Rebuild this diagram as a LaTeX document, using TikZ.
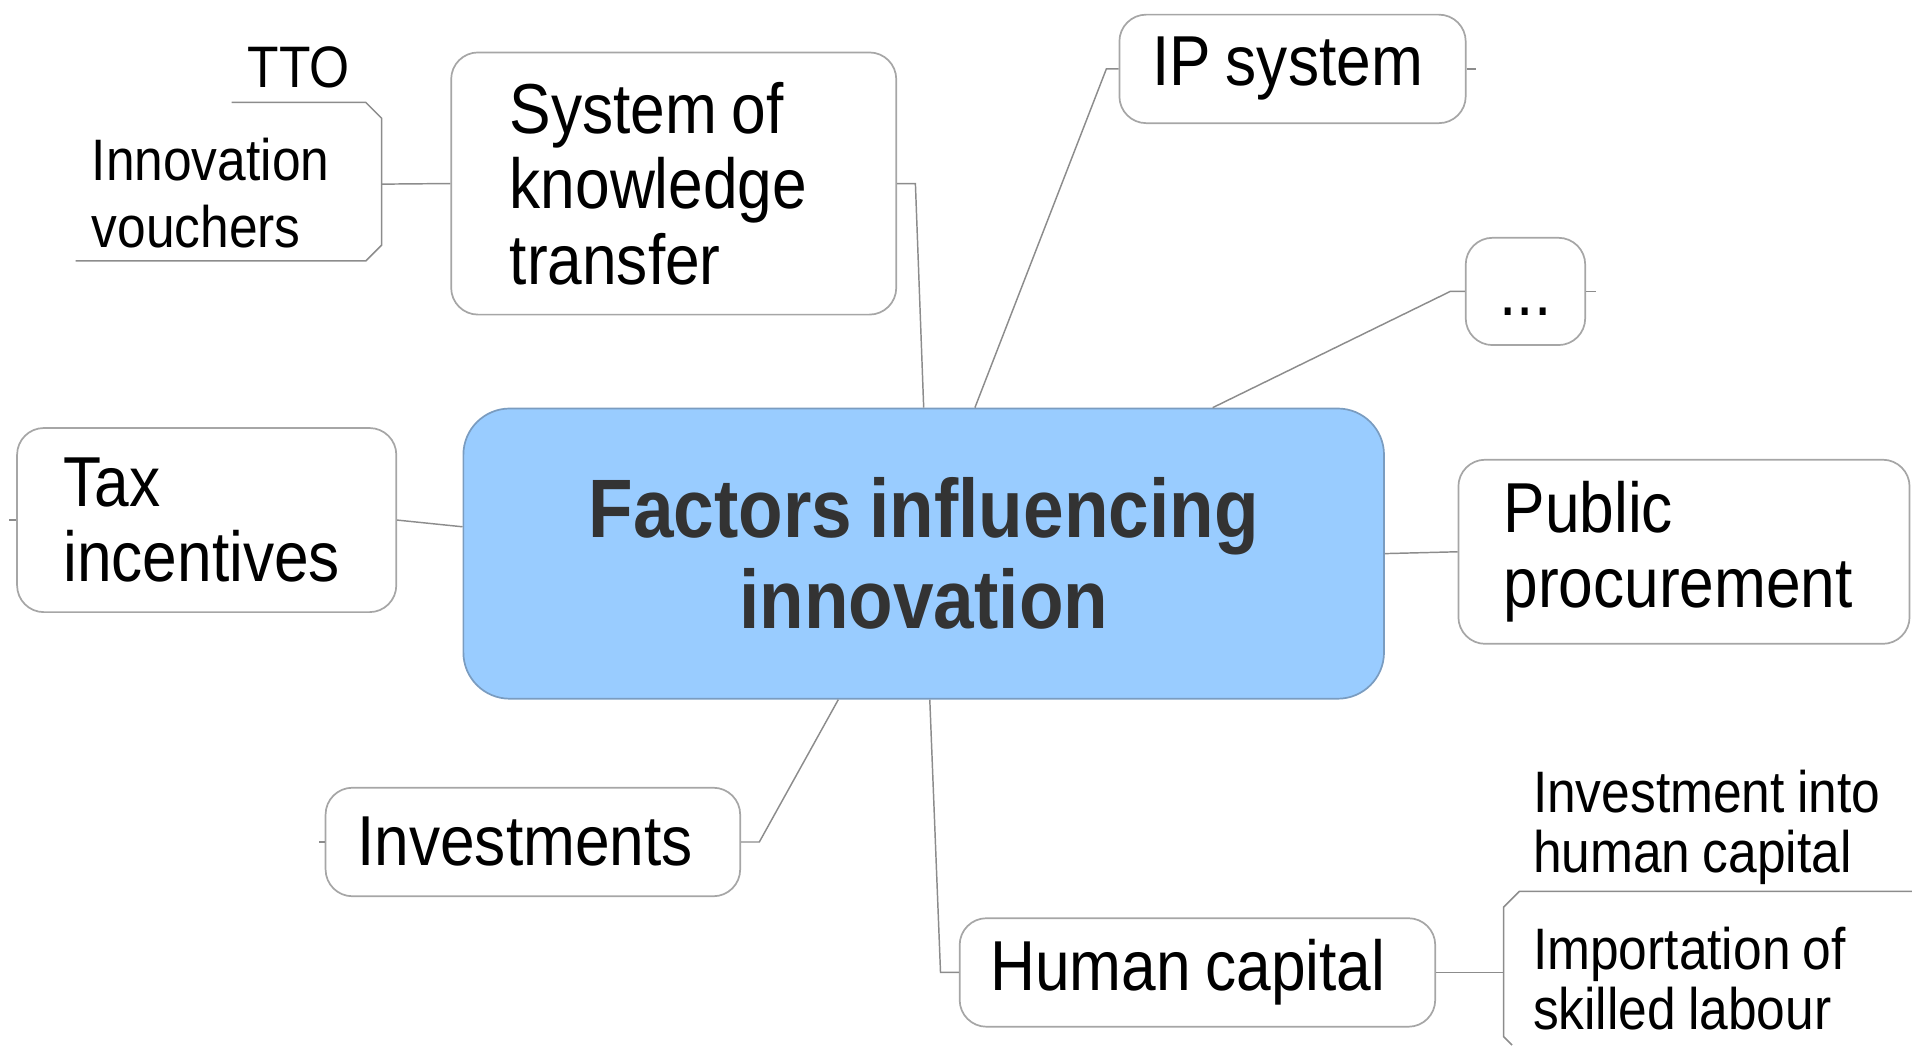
\documentclass[tikz,border=0pt]{standalone}
\usepackage{fontspec}
\setmainfont{Liberation Sans}[FakeStretch=0.88, WordSpace=0.85]

\definecolor{trait}{HTML}{8C8C8C}
\definecolor{bord}{HTML}{A6A6A6}
\definecolor{bleu}{HTML}{99CCFF}
\definecolor{bleubord}{HTML}{7A9CC0}
\definecolor{titre}{HTML}{333333}

\tikzset{
  branche/.style={draw=bord, line width=1.4pt, fill=white, rounded corners=22pt,
    align=flush left, inner ysep=0pt, font=\fontsize{58}{62}\selectfont},
  feuille/.style={align=left, inner sep=0pt, font=\fontsize{48}{55}\selectfont},
  lien/.style={draw=trait, line width=1.2pt},
}

\begin{document}
\begin{tikzpicture}[x=1pt, y=-1pt]
\useasboundingbox (0,0) rectangle (1568,857);

% Noeud central
\node[fill=bleu, draw=bleubord, line width=1.4pt, rounded corners=38pt,
  minimum width=755pt, minimum height=238pt, align=center, text=titre,
  font=\fontsize{68}{75}\selectfont\bfseries] (factors) at (757.5,454)
  {Factors influencing\\innovation};

% Branches
\node[branche, text width=269pt, inner xsep=48pt, minimum height=215pt] (transfer) at (552.5,150.5) {System of\\knowledge\\transfer};
\node[branche, text width=230pt, inner xsep=27pt, minimum height=89pt] (ip) at (1060,56.5) {IP system};
\node[branche, align=center, minimum width=98pt, minimum height=88pt] (dots) at (1251,239) {\raisebox{-7pt}{...}\strut};
\node[branche, text width=235pt, inner xsep=38pt, minimum height=151pt] (tax) at (169.5,426.5) {Tax\\incentives};
\node[branche, text width=296pt, inner xsep=37pt, minimum height=151pt] (public) at (1381,452.5) {Public\\procurement};
\node[branche, text width=288pt, inner xsep=26pt, minimum height=89pt] (invest) at (437,690.5) {Investments};
\node[branche, text width=340pt, inner xsep=25pt, minimum height=89pt] (human) at (982,797.5) {Human capital};

% Sous-branches
\node[feuille, anchor=base west] (tto) at (203,72) {TTO};
\node[feuille, anchor=west] (vouchers) at (75,158) {Innovation\\vouchers};
\node[feuille, anchor=west, font=\fontsize{48}{50}\selectfont] (capinv) at (1257,678.5) {Investment into\\human capital};
\node[feuille, anchor=west, font=\fontsize{48}{50}\selectfont] (labour) at (1257,802.5) {Importation of\\skilled labour};

% Accolades
\draw[lien] (190,84) -- (300,84) -- (313,97) -- (313,201) -- (300,214) -- (62,214);
\coordinate (accg) at (313,151);
\draw[lien] (1568,731) -- (1246,731) -- (1233,744) -- (1233,850) -- (1240,857);
\coordinate (accd) at (1233,797.5);

% Liens
\draw[lien] (accg) -- (transfer.west);
\draw[lien] (human.east) -- (accd);
\draw[lien] (factors.north) -- ([xshift=15pt]transfer.east) -- (transfer.east);
\draw[lien] ([xshift=42pt]factors.north) -- ([xshift=-10pt]ip.west) -- (ip.west);
\draw[lien] ([xshift=237pt]factors.north) -- ([xshift=-12pt]dots.west) -- (dots.west);
\draw[lien] (ip.east) -- ++(8,0);
\draw[lien] (dots.east) -- ++(8,0);
\draw[lien] (tax.east) -- ([yshift=22pt]factors.west);
\draw[lien] (tax.west) -- ++(-6,0);
\draw[lien] (factors.east) -- (public.west);
\draw[lien] ([xshift=-70pt]factors.south) -- ([xshift=15pt]invest.east) -- (invest.east);
\draw[lien] (invest.west) -- ++(-5,0);
\draw[lien] ([xshift=5pt]factors.south) -- ([xshift=-15pt]human.west) -- (human.west);
\end{tikzpicture}
\end{document}
